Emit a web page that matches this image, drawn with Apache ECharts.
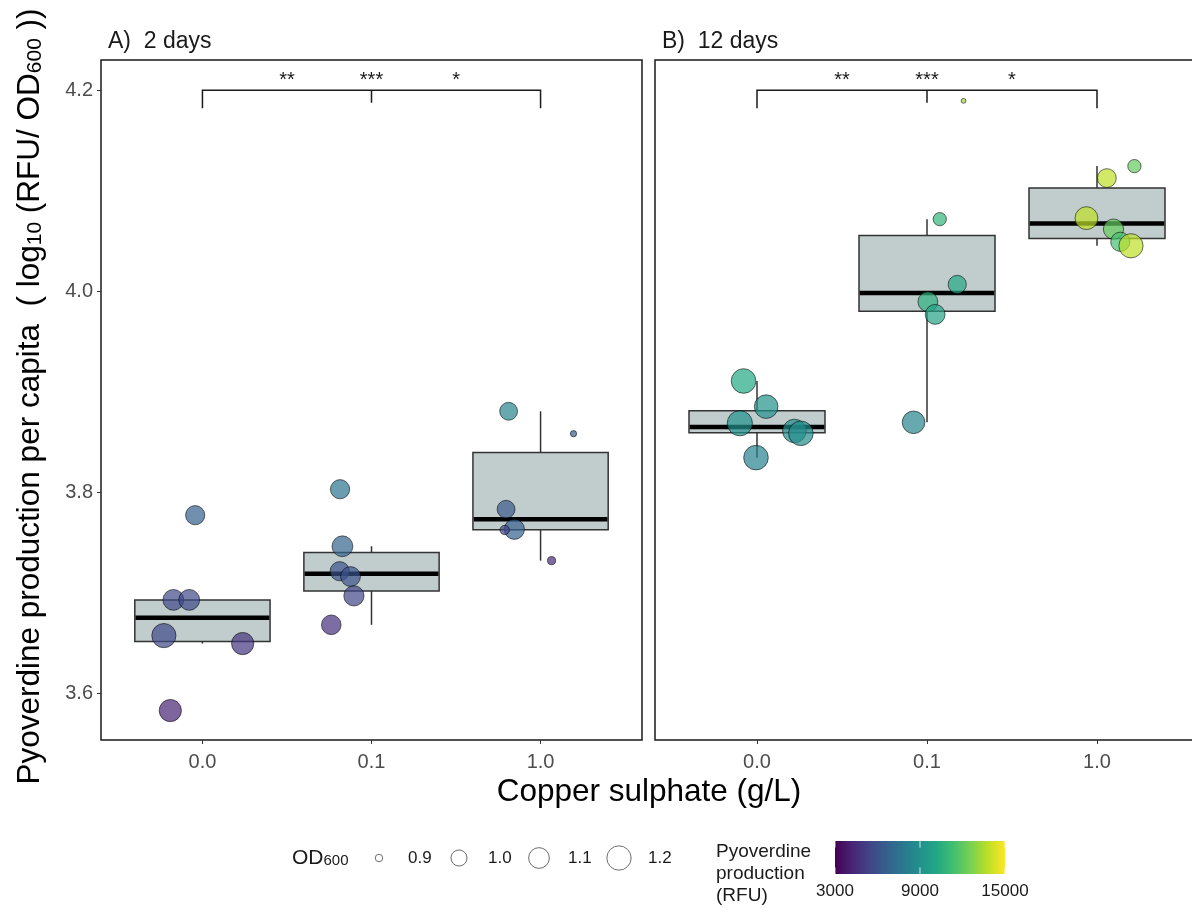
<!DOCTYPE html>
<html><head><meta charset="utf-8">
<script src="https://cdn.jsdelivr.net/npm/echarts@6/dist/echarts.min.js"></script>
<style>html,body{margin:0;padding:0;background:#fff}#c{width:1192px;height:908px}</style>
</head><body><div id="c"></div>
<script>
// ---------- data ----------
const categories = ['0.0', '0.1', '1.0'];
const panelTitles = ['A)  2 days', 'B)  12 days'];
const yTicks = [3.6, 3.8, 4.0, 4.2];
const pointCat = [0,0,0,0,0,0, 1,1,1,1,1,1, 2,2,2,2,2,2];

const day2Jitter = [-0.043,-0.172,-0.078,-0.228,0.238,-0.19, -0.186,-0.172,-0.188,-0.124,-0.104,-0.238, -0.189,0.195,-0.204,-0.155,-0.212,0.065];
const day2Y      = [3.7775,3.6933,3.6933,3.6578,3.6499,3.5833, 3.8033,3.7466,3.7218,3.7165,3.6973,3.6685, 3.8808,3.8585,3.7834,3.7635,3.7628,3.7323];
const day2OD     = [1.083,1.123,1.123,1.221,1.162,1.162, 1.083,1.123,1.083,1.098,1.108,1.093, 1.052,0.898,1.052,1.108,0.92,0.909];
const day2RFU    = [6600,5640,5640,5640,4800,4200, 7560,6840,6000,6000,5400,4680, 8400,6600,6360,6600,5400,4560];

const day12Jitter = [-0.079,0.054,-0.101,0.22,0.258,-0.006, 0.075,0.178,0.005,0.048,-0.079,0.215, 0.22,0.058,-0.062,0.097,0.137,0.2];
const day12Y      = [3.9109,3.8854,3.8689,3.8612,3.8589,3.8347, 4.0718,4.0069,3.9897,3.9771,3.8698,4.1894, 4.1245,4.1126,4.0728,4.0619,4.0493,4.0453];
const day12OD     = [1.234,1.203,1.253,1.203,1.234,1.234, 0.967,1.06,1.098,1.098,1.173,0.893, 0.967,1.074,1.179,1.108,1.083,1.221];
const day12RFU    = [10200,9000,9000,8760,8760,8280, 10800,10200,10560,9960,8400,13200, 12120,13800,13800,12120,11400,13800];

const sigLabels = ['**', '***', '*'];
const sigX = [1.5, 2, 2.5];
const bracketY = 4.2, bracketEndTip = 4.182, bracketMidTip = 4.1875;
const odBreaks = [0.9, 1.0, 1.1, 1.2];
const rfuBreaks = [3000, 9000, 15000];
const rfuMin = 3000, rfuMax = 15000;
const odMin = 0.891, odMax = 1.253;

const viridis = ['#440154','#482475','#414487','#355f8d','#2a788e','#21918c','#22a884','#44bf70','#7ad151','#bddf26','#fde725'];
const FONT = "'Liberation Sans', Arial, sans-serif";

// ---------- helpers ----------
function radius(od) { // outer radius (px) of a point: ggplot-like area scale
  const t = Math.max(0, Math.min(1, (od - odMin) / (odMax - odMin)));
  return 2 + 11 * Math.sqrt(t);
}
function q7(s, p) {
  const h = (s.length - 1) * p, lo = Math.floor(h);
  const hi = Math.min(lo + 1, s.length - 1);
  return s[lo] + (h - lo) * (s[hi] - s[lo]);
}
function boxData(ys) {
  const out = [];
  for (let c = 0; c < categories.length; c++) {
    const v = ys.filter((_, i) => pointCat[i] === c).sort((a, b) => a - b);
    const q1 = q7(v, 0.25), med = q7(v, 0.5), q3 = q7(v, 0.75), iqr = q3 - q1;
    const lo = Math.min(...v.filter(x => x >= q1 - 1.5 * iqr));
    const hi = Math.max(...v.filter(x => x <= q3 + 1.5 * iqr));
    out.push([c + 1, lo, q1, med, q3, hi]);
  }
  return out;
}
function pointData(jit, ys, ods, rfus) {
  return ys.map((y, i) => [pointCat[i] + 1 + jit[i], y, ods[i], rfus[i]]);
}

const BOX_W = 0.8;
function renderBox(params, api) {
  const x = api.value(0);
  const pLo = api.coord([x, api.value(1)]), pQ1 = api.coord([x, api.value(2)]);
  const pMed = api.coord([x, api.value(3)]), pQ3 = api.coord([x, api.value(4)]);
  const pHi = api.coord([x, api.value(5)]);
  const hw = api.size([BOX_W / 2, 0])[0];
  const cx = pMed[0];
  const ls = { stroke: '#333333', lineWidth: 1.5 };
  return { type: 'group', children: [
    { type: 'line', shape: { x1: cx, y1: pQ3[1], x2: cx, y2: pHi[1] }, style: ls },
    { type: 'line', shape: { x1: cx, y1: pQ1[1], x2: cx, y2: pLo[1] }, style: ls },
    { type: 'rect', shape: { x: cx - hw, y: pQ3[1], width: 2 * hw, height: pQ1[1] - pQ3[1] }, style: { fill: '#c1cdcd', stroke: '#333333', lineWidth: 1.5 } },
    { type: 'line', shape: { x1: cx - hw + 0.75, y1: pMed[1], x2: cx + hw - 0.75, y2: pMed[1] }, style: { stroke: '#000', lineWidth: 4.5 } }
  ]};
}
function renderBracket(params, api) {
  const a = api.coord([api.value(0), bracketY]), b = api.coord([api.value(1), bracketY]);
  const m = api.coord([api.value(2), bracketY]);
  const ea = api.coord([api.value(0), bracketEndTip]), eb = api.coord([api.value(1), bracketEndTip]);
  const mm = api.coord([api.value(2), bracketMidTip]);
  const st = { stroke: '#1a1a1a', lineWidth: 1.5, fill: null };
  return { type: 'group', children: [
    { type: 'polyline', shape: { points: [ea, a, b, eb] }, style: st },
    { type: 'line', shape: { x1: m[0], y1: m[1], x2: mm[0], y2: mm[1] }, style: st }
  ]};
}
function renderSig(params, api) {
  const p = api.coord([api.value(0), api.value(1)]);
  return { type: 'text', x: p[0], y: p[1] - 10,
    style: { text: sigLabels[params.dataIndex], font: '20px ' + FONT, fill: '#1a1a1a', textAlign: 'center', textVerticalAlign: 'middle' } };
}

const panels = [
  { y: day2Y, jit: day2Jitter, od: day2OD, rfu: day2RFU },
  { y: day12Y, jit: day12Jitter, od: day12OD, rfu: day12RFU }
];
const gridLefts = [101, 655];
const gridWidths = [541, 544];

const grids = gridLefts.map((l, g) => ({ left: l, top: 60, width: gridWidths[g], height: 680, outerBoundsMode: 'none', containLabel: false,
  show: true, borderColor: '#1a1a1a', borderWidth: 1.5, backgroundColor: 'transparent' }));
const xAxes = gridLefts.map((_, g) => ({
  gridIndex: g, type: 'value', min: 0.4, max: 3.6,
  axisLine: { show: false }, splitLine: { show: false },
  axisTick: { show: true, customValues: [1, 2, 3], length: 4, lineStyle: { color: '#333', width: 1 } },
  axisLabel: { show: true, customValues: [1, 2, 3], formatter: v => categories[Math.round(v) - 1], fontSize: 20, color: '#4d4d4d', fontFamily: FONT, margin: 12 }
}));
const yName = '{a|Pyoverdine production per capita  ( log}{s|10}{a| (RFU/ OD}{s|600}{a| ))}';
const yAxes = gridLefts.map((_, g) => ({
  gridIndex: g, type: 'value', min: 3.554, max: 4.23,
  axisLine: { show: false }, splitLine: { show: false },
  axisTick: { show: g === 0, customValues: yTicks, length: 4, lineStyle: { color: '#333', width: 1 } },
  axisLabel: { show: g === 0, customValues: yTicks, formatter: v => v.toFixed(1), fontSize: 20, color: '#4d4d4d', fontFamily: FONT, margin: 8 },
  name: g === 0 ? yName : '', nameLocation: 'middle', nameRotate: 90, nameGap: 55,
  nameTextStyle: { padding: [0, 0, 0, 7], rich: {
    a: { fontSize: 31.5, color: '#000', fontFamily: FONT },
    s: { fontSize: 21, color: '#000', fontFamily: FONT, verticalAlign: 'bottom', lineHeight: 12 }
  } }
}));

const series = [];
const scatterIdx = [];
panels.forEach((p, g) => {
  series.push({ type: 'custom', xAxisIndex: g, yAxisIndex: g, renderItem: renderBox, encode: { x: 0, y: [1, 2, 3, 4, 5] }, data: boxData(p.y), z: 2, silent: true });
  series.push({ type: 'custom', xAxisIndex: g, yAxisIndex: g, renderItem: renderBracket, encode: { x: [0, 1, 2] }, data: [[1, 3, 2]], z: 3, silent: true });
  series.push({ type: 'custom', xAxisIndex: g, yAxisIndex: g, renderItem: renderSig, encode: { x: 0, y: 1 }, data: sigX.map(x => [x, bracketY]), z: 3, silent: true });
  scatterIdx.push(series.length);
  series.push({ type: 'scatter', xAxisIndex: g, yAxisIndex: g, data: pointData(p.jit, p.y, p.od, p.rfu),
    symbol: 'circle', symbolSize: v => 2 * radius(v[2]) - 0.8,
    itemStyle: { borderColor: '#000', borderWidth: 0.8, opacity: 0.7 }, z: 4, silent: true, clip: false });
});

// ---------- legends (graphic) ----------
const graphic = [];
panelTitles.forEach((t, g) => graphic.push({ type: 'text', x: gridLefts[g] + 7, y: 42,
  style: { text: t, font: '23px ' + FONT, fill: '#1a1a1a', textAlign: 'left', textVerticalAlign: 'middle' } }));
graphic.push({ type: 'text', x: 649, y: 792, style: { text: 'Copper sulphate (g/L)', font: '31.5px ' + FONT, fill: '#000', textAlign: 'center', textVerticalAlign: 'middle' } });
// size legend
graphic.push({ type: 'text', x: 292, y: 858, style: { text: '{m|OD}{s|600}', textAlign: 'left', textVerticalAlign: 'middle',
  rich: { m: { fontSize: 21, fontFamily: FONT, fill: '#1a1a1a' }, s: { fontSize: 15, fontFamily: FONT, fill: '#1a1a1a', verticalAlign: 'bottom', lineHeight: 8 } } } });
odBreaks.forEach((b, i) => {
  graphic.push({ type: 'circle', shape: { cx: 379 + 80 * i, cy: 858, r: radius(b) }, style: { fill: '#fff', stroke: '#6e6e6e', lineWidth: 1 } });
  graphic.push({ type: 'text', x: 408 + 80 * i, y: 858, style: { text: b.toFixed(1), font: '17px ' + FONT, fill: '#1a1a1a', textAlign: 'left', textVerticalAlign: 'middle' } });
});
// colour bar
graphic.push({ type: 'text', x: 716, y: 841, style: { text: 'Pyoverdine\nproduction\n(RFU)', font: '19px ' + FONT, lineHeight: 22, fill: '#1a1a1a', textAlign: 'left', textVerticalAlign: 'top' } });
const cbX = 835, cbY = 841, cbW = 170, cbH = 33;
graphic.push({ type: 'rect', shape: { x: cbX, y: cbY, width: cbW, height: cbH }, style: {
  fill: new echarts.graphic.LinearGradient(0, 0, 1, 0, viridis.map((c, i) => ({ offset: i / (viridis.length - 1), color: c }))) } });
rfuBreaks.forEach(b => {
  const x = cbX + cbW * (b - rfuMin) / (rfuMax - rfuMin);
  graphic.push({ type: 'line', shape: { x1: x, y1: cbY, x2: x, y2: cbY + cbH / 5 }, style: { stroke: '#fff', lineWidth: 1, opacity: 0.8 } });
  graphic.push({ type: 'line', shape: { x1: x, y1: cbY + cbH * 4 / 5, x2: x, y2: cbY + cbH }, style: { stroke: '#fff', lineWidth: 1, opacity: 0.8 } });
  graphic.push({ type: 'text', x: x, y: 891, style: { text: String(b), font: '17px ' + FONT, fill: '#1a1a1a', textAlign: 'center', textVerticalAlign: 'middle' } });
});

const chart = echarts.init(document.getElementById('c'), null, { renderer: 'canvas' });
chart.setOption({
  animation: false,
  backgroundColor: '#fff',
  textStyle: { fontFamily: FONT },
  grid: grids, xAxis: xAxes, yAxis: yAxes,
  visualMap: { type: 'continuous', show: false, min: rfuMin, max: rfuMax, dimension: 3, seriesIndex: scatterIdx, inRange: { color: viridis } },
  series: series,
  graphic: graphic
});
</script></body></html>
